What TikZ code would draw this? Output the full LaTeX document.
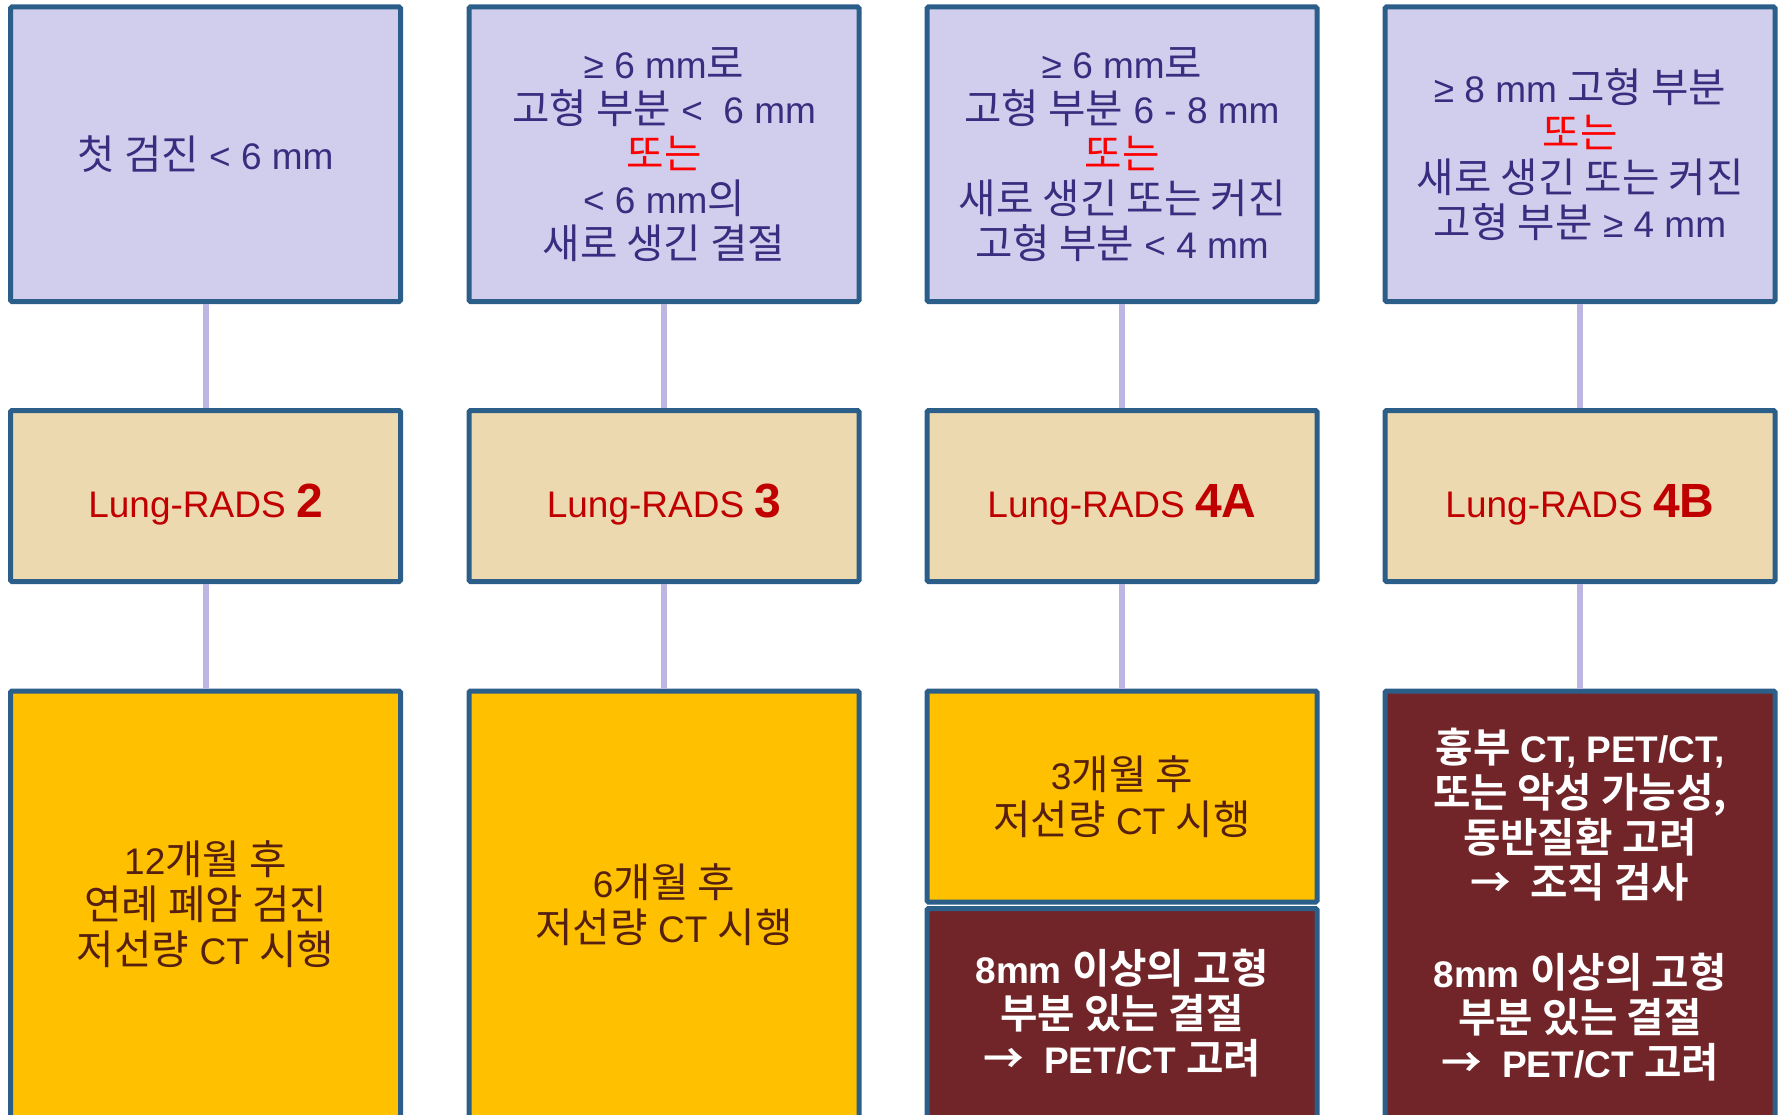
\documentclass[tikz,border=0pt]{standalone}
\usepackage{fontspec}
\setmainfont{Liberation Sans}
\newfontfamily\kr{Noto Sans CJK KR}[Scale=1.1,BoldFont={Noto Sans CJK KR Bold}]
\definecolor{bordc}{HTML}{2C5E8A}
\definecolor{lavfill}{HTML}{D0CEEC}
\definecolor{navytxt}{HTML}{3A2D80}
\definecolor{tanfill}{HTML}{EDD9B0}
\definecolor{radsred}{HTML}{C00000}
\definecolor{yellowfill}{HTML}{FFC000}
\definecolor{browntxt}{HTML}{55200F}
\definecolor{darkred}{HTML}{722528}
\definecolor{linkc}{HTML}{BDB5E2}
\begin{document}
\begin{tikzpicture}[x=1pt,y=-1pt,
  box/.style={draw=bordc,line width=5pt,rounded corners=1.5pt,minimum width=390pt,align=center,
    font=\fontsize{37}{45}\selectfont, inner sep=0pt},
  crit/.style={box,fill=lavfill,text=navytxt,minimum height=294.5pt},
  cat/.style={box,fill=tanfill,text=radsred,minimum height=171pt,text height=50pt,text depth=8pt},
  act/.style={box,fill=yellowfill,text=browntxt},
  actdark/.style={box,fill=darkred,text=white,font=\fontsize{37}{45}\selectfont\bfseries},
  link/.style={draw=linkc,line width=6pt}]
\useasboundingbox (0,0) rectangle (1785,1115);
\clip (0,0) rectangle (1785,1115);
% top row
\node[crit] (t1) at (205.5,154.25) {{\kr 첫 검진} < 6 mm};
\node[crit] (t2) at (664,154.25) {≥ 6 mm{\kr 로}\\{\kr 고형 부분} <\ \ 6 mm\\\textcolor{red}{\kr 또는}\\< 6 mm{\kr 의}\\{\kr 새로 생긴 결절}};
\node[crit] (t3) at (1122,154.25) {≥ 6 mm{\kr 로}\\{\kr 고형 부분} 6 - 8 mm\\\textcolor{red}{\kr 또는}\\{\kr 새로 생긴 또는 커진}\\{\kr 고형 부분} < 4 mm};
\node[crit] (t4) at (1580,154.25) {≥ 8 mm {\kr 고형 부분}\\\textcolor{red}{\kr 또는}\\{\kr 새로 생긴 또는 커진}\\{\kr 고형 부분} ≥\ 4 mm};
% middle row
\node[cat] (m1) at (205.5,496) {Lung-RADS {\fontsize{48}{48}\selectfont\bfseries 2}};
\node[cat] (m2) at (664,496) {Lung-RADS {\fontsize{48}{48}\selectfont\bfseries 3}};
\node[cat] (m3) at (1122,496) {Lung-RADS {\fontsize{48}{48}\selectfont\bfseries 4A}};
\node[cat] (m4) at (1580,496) {Lung-RADS {\fontsize{48}{48}\selectfont\bfseries 4B}};
% bottom row
\node[act,minimum height=427pt] (b1) at (205.5,904.5) {12{\kr 개월 후}\\{\kr 연례 폐암 검진}\\{\kr 저선량} CT {\kr 시행}};
\node[act,minimum height=427pt] (b2) at (664,904.5) {6{\kr 개월 후}\\{\kr 저선량} CT {\kr 시행}};
\node[act,minimum height=211pt] (b3) at (1122,796.5) {3{\kr 개월 후}\\{\kr 저선량} CT {\kr 시행}};
\node[actdark,minimum height=209.5pt] (b3b) at (1122,1013.25) {8mm {\kr 이상의 고형}\\{\kr 부분 있는 결절}\\{\kr →}\ \ PET/CT {\kr 고려}};
\node[actdark,minimum height=427pt] (b4) at (1580,904.5) {{\kr 흉부} CT, PET/CT,\\{\kr 또는 악성 가능성,}\\{\kr 동반질환 고려}\\{\kr →\ \ 조직 검사}\\[45pt]8mm {\kr 이상의 고형}\\{\kr 부분 있는 결절}\\{\kr →}\ \ PET/CT {\kr 고려}};
% connectors
\foreach \i in {1,2,3,4} {
  \draw[link] (t\i.south) -- (m\i.north);
}
\draw[link] (m1.south) -- (b1.north);
\draw[link] (m2.south) -- (b2.north);
\draw[link] (m3.south) -- (b3.north);
\draw[link] (m4.south) -- (b4.north);
\end{tikzpicture}
\end{document}
